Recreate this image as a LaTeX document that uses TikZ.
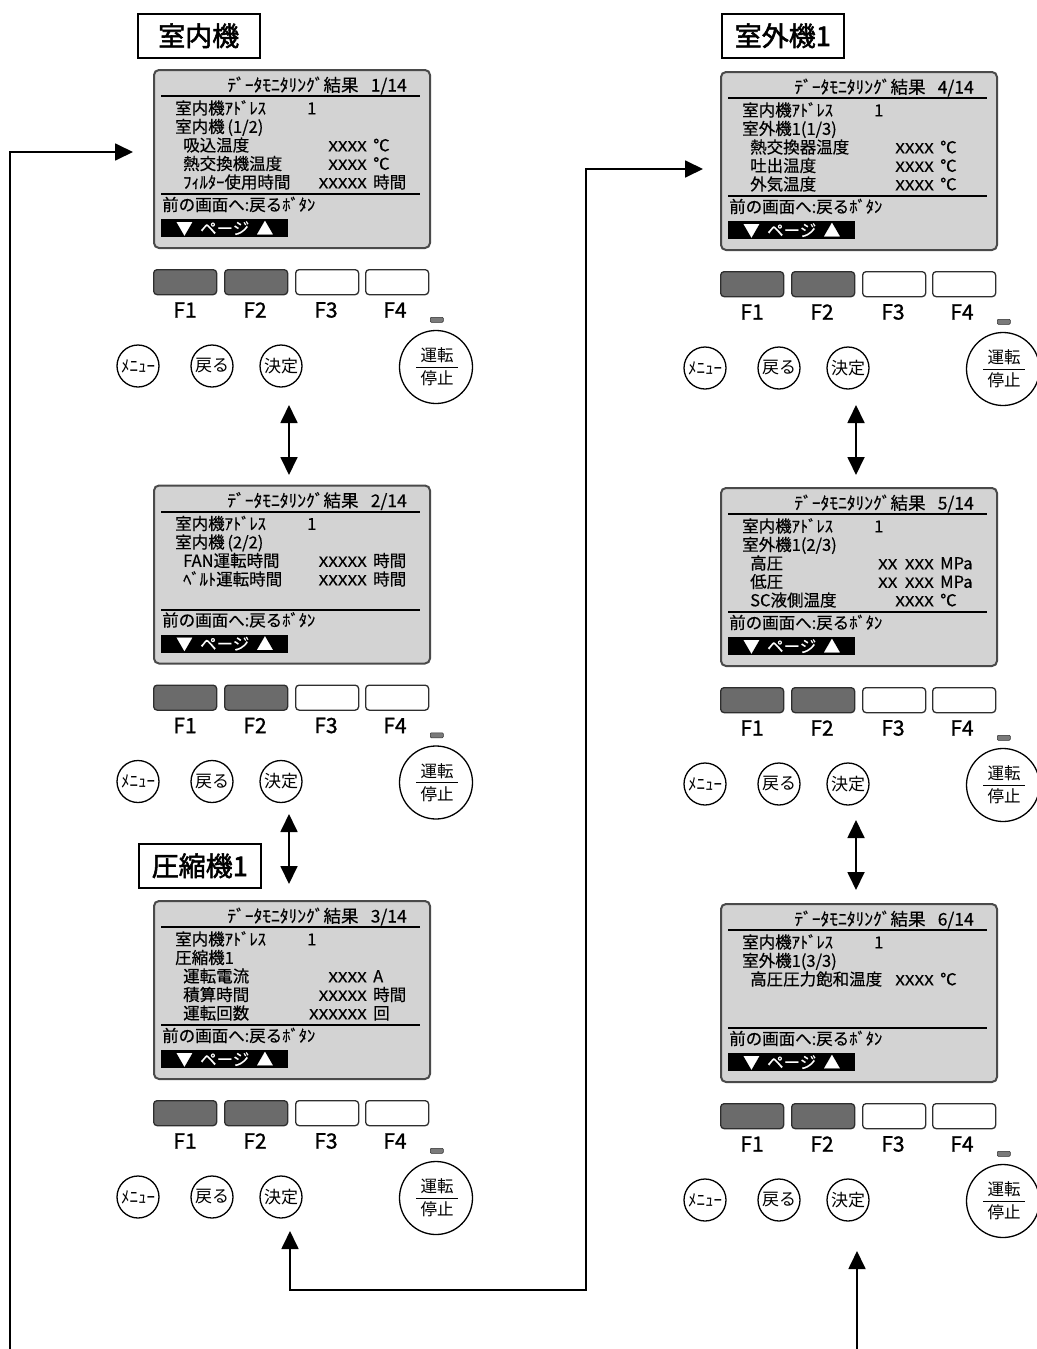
\documentclass[tikz,border=0pt]{standalone}
\usepackage{fontspec}
\usepackage{graphicx}
\setmainfont{Noto Sans CJK JP}
\newfontfamily\lblfont[FakeBold=2]{Noto Sans CJK JP}
\newfontfamily\keyfont[FakeBold=1.2]{Noto Sans CJK JP}
\newfontfamily\scrfont[FakeBold=0.4]{Noto Sans CJK JP}
\usetikzlibrary{arrows.meta,calc}
\definecolor{scrfill}{HTML}{D3D3D3}
\definecolor{scredge}{HTML}{4A4A4A}
\definecolor{keyfill}{HTML}{6B6B6B}
\definecolor{keyedge}{HTML}{2E2E2E}
\definecolor{ledfill}{HTML}{7A7A7A}

\tikzset{
  txt/.style={inner sep=0pt, font=\scrfont\fontsize{16.5}{17}\selectfont},
  ttl/.style={inner sep=0pt, font=\scrfont\fontsize{17.5}{18}\selectfont},
  val/.style={inner sep=0pt, font=\scrfont\fontsize{14}{14}\selectfont},
  screenbox/.style={draw=scredge, line width=2pt, fill=scrfill, rounded corners=5pt,
    minimum width=276pt, minimum height=178pt, inner sep=0pt},
  rul/.style={line width=2pt, black},
  pagebar/.style={fill=black, text=white, minimum width=127pt, minimum height=18pt,
    inner sep=0pt, font=\scrfont\fontsize{16.5}{16}\selectfont},
  fkey/.style={draw=keyedge, line width=1.3pt, rounded corners=3.5pt,
    minimum width=63pt, minimum height=25pt, inner sep=0pt},
  flab/.style={inner sep=0pt, font=\keyfont\fontsize{21}{21}\selectfont},
  led/.style={fill=ledfill, draw=keyedge, line width=0.5pt, rounded corners=1pt,
    minimum width=13pt, minimum height=5pt, inner sep=0pt},
  sbtn/.style={circle, draw, line width=1.3pt, minimum size=42pt, inner sep=0pt,
    font=\fontsize{17}{17}\selectfont},
  pbtn/.style={circle, draw, line width=1.3pt, minimum size=73pt, inner sep=0pt},
  ptxt/.style={inner sep=0pt, font=\fontsize{16.5}{16.5}\selectfont},
  lbl/.style={draw, line width=1.5pt, fill=white, minimum width=122pt,
    minimum height=44pt, inner sep=0pt, font=\lblfont\fontsize{27}{27}\selectfont},
  conn/.style={line width=1.8pt, -{Triangle[length=18pt,width=17pt]}},
  dbl/.style={line width=1.8pt, {Triangle[length=18pt,width=17pt]}-{Triangle[length=18pt,width=17pt]}}
}

% function keys and buttons under a screen (local coordinates)
\newcommand\keys[1]{%
  \node[fkey,fill=keyfill,anchor=north west] (#1f1) at (0,200) {};
  \node[fkey,fill=keyfill,anchor=north west] (#1f2) at (71,200) {};
  \node[fkey,fill=white,anchor=north west] (#1f3) at (142,200) {};
  \node[fkey,fill=white,anchor=north west] (#1f4) at (212,200) {};
  \node[flab] (#1l1) at (32,241) {F1};
  \node[flab] (#1l2) at (102,241) {F2};
  \node[flab] (#1l3) at (173,241) {F3};
  \node[flab] (#1l4) at (242,241) {F4};
  \node[led,anchor=north west] (#1led) at (277,248) {};
  \node[sbtn] (#1m) at (-15,297) {ﾒﾆｭｰ};
  \node[sbtn] (#1r) at (59,297) {戻る};
  \node[sbtn] (#1k) at (128,297) {決定};
  \node[pbtn] (#1p) at (283,298) {};
  \node[ptxt] (#1pa) at (284,286.5) {運転};
  \node[ptxt] (#1pb) at (284,309.5) {停止};
  \draw[line width=1pt] ($(#1p.center)+(-20,0)$) -- ($(#1p.center)+(22,0)$);
}

% screen frame with common texts
\newcommand\scr[3]{%
  \node[screenbox,anchor=north west] (#1) at (0,0) {};
  \draw[rul] (8,27) -- (267,27);
  \draw[rul] (8,125) -- (267,125);
  \node[ttl,anchor=base east] (#1t) at (254,22.5) {ﾃﾞｰﾀﾓﾆﾀﾘﾝｸﾞ結果\hspace{0.7em}#2};
  \node[txt,anchor=base west] (#1ad) at (22,45.3) {室内機ｱﾄﾞﾚｽ};
  \node[txt,anchor=base west] (#1an) at (154,45.3) {1};
  \node[txt,anchor=base west] (#1h) at (22,63.8) {#3};
  \node[txt,anchor=base west] (#1bk) at (9,141.8) {前の画面へ:戻るﾎﾞﾀﾝ};
  \node[pagebar,anchor=north west] (#1pg) at (8,150) {▼\hspace{0.45em}ページ\hspace{0.45em}▲};
  \keys{#1}
}

% value line: name, baseline, label, value, unit
\newcommand\kv[5]{%
  \node[txt,anchor=base west] (#1l) at (30,#2) {#3};
  \node[val,anchor=base east] (#1v) at (214,#2) {\scalebox{1.2}[1]{#4}};
  \node[txt,anchor=base west] (#1u) at (220,#2) {#5};
}

\begin{document}
\begin{tikzpicture}[x=1pt,y=-1pt]
\useasboundingbox[fill=white] (0,0) rectangle (1036,1349);

% ---------- left column ----------
\node[lbl,anchor=north west] (L1) at (137,13) {室内機};
\begin{scope}[shift={(153,69)}]
  \scr{s1}{1/14}{室内機\,(1/2)}
  \kv{s1a}{82.3}{吸込温度}{XXXX}{℃}
  \kv{s1b}{100.8}{熱交換機温度}{XXXX}{℃}
  \kv{s1c}{119.3}{ﾌｨﾙﾀｰ使用時間}{XXXXX}{時間}
\end{scope}

\begin{scope}[shift={(153,484.5)}]
  \scr{s2}{2/14}{室内機\,(2/2)}
  \kv{s2a}{82.3}{FAN運転時間}{XXXXX}{時間}
  \kv{s2b}{100.8}{ﾍﾞﾙﾄ運転時間}{XXXXX}{時間}
\end{scope}

\node[lbl,anchor=north west] (L3) at (138,843) {圧縮機1};
\begin{scope}[shift={(153,900)}]
  \scr{s3}{3/14}{圧縮機1}
  \kv{s3a}{82.3}{運転電流}{XXXX}{A}
  \kv{s3b}{100.8}{積算時間}{XXXXX}{時間}
  \kv{s3c}{119.3}{運転回数}{XXXXXX}{回}
\end{scope}

% ---------- right column ----------
\node[lbl,anchor=north west] (L2) at (721,13) {室外機1};
\begin{scope}[shift={(720,71)}]
  \scr{s4}{4/14}{室外機1(1/3)}
  \kv{s4a}{82.3}{熱交換器温度}{XXXX}{℃}
  \kv{s4b}{100.8}{吐出温度}{XXXX}{℃}
  \kv{s4c}{119.3}{外気温度}{XXXX}{℃}
\end{scope}

\begin{scope}[shift={(720,487)}]
  \scr{s5}{5/14}{室外機1(2/3)}
  \kv{s5a}{82.3}{高圧}{XX\ \ XXX}{MPa}
  \kv{s5b}{100.8}{低圧}{XX\ \ XXX}{MPa}
  \kv{s5c}{119.3}{SC液側温度}{XXXX}{℃}
\end{scope}

\begin{scope}[shift={(720,903)}]
  \scr{s6}{6/14}{室外機1(3/3)}
  \kv{s6a}{82.3}{高圧圧力飽和温度}{XXXX}{℃}
\end{scope}

% ---------- connectors ----------
\coordinate (d1a) at (289,405);  \coordinate (d1b) at (289,475);
\coordinate (d2a) at (289,814);  \coordinate (d2b) at (289,884);
\coordinate (d3a) at (856,405);  \coordinate (d3b) at (856,475);
\coordinate (d4a) at (856,820);  \coordinate (d4b) at (856,890);
\draw[dbl] (d1a) -- (d1b);
\draw[dbl] (d2a) -- (d2b);
\draw[dbl] (d3a) -- (d3b);
\draw[dbl] (d4a) -- (d4b);

% return loop to first screen
\coordinate (lp0) at (10,1349);
\coordinate (lp1) at (10,152);
\coordinate (in1) at (133,152);
\draw[conn] (lp0) -- (lp1) -- (in1);

% link between compressor screen and outdoor screen
\coordinate (q0) at (290,1231);
\coordinate (q1) at (290,1290);
\coordinate (q2) at (586,1290);
\coordinate (q3) at (586,169);
\coordinate (q4) at (703,169);
\draw[dbl] (q0) -- (q1) -- (q2) -- (q3) -- (q4);

% arrow from below into last screen
\coordinate (r0) at (857,1349);
\coordinate (r1) at (857,1251);
\draw[conn] (r0) -- (r1);
\end{tikzpicture}
\end{document}
